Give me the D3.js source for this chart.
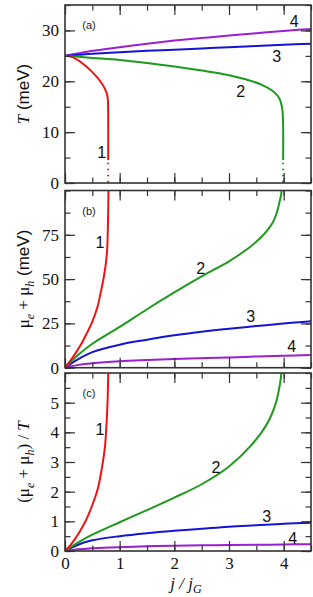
<!DOCTYPE html>
<html>
<head>
<meta charset="utf-8">
<script src="https://cdn.jsdelivr.net/npm/d3@7"></script>
<style>
  html, body { margin: 0; padding: 0; background: #fff; }
  svg { display: block; }
</style>
</head>
<body>
<div id="chart"></div>
<script>
// ---- data ----
const xTicks = [0, 1, 2, 3, 4];
const jGrid = [0, 0.25, 0.5, 1, 1.5, 2, 2.5, 3, 3.5, 4, 4.5];

// panel (a): T (meV)
const jT1 = [0, 0.1, 0.2, 0.3, 0.4, 0.5, 0.6, 0.67, 0.73, 0.77, 0.785, 0.79, 0.79];
const T1 = [25, 24.85, 24.4, 23.7, 22.8, 21.8, 20.6, 19.6, 18.5, 17.4, 16.2, 14, 4.5];
const jT2 = [0, 0.5, 1, 1.5, 2, 2.5, 3, 3.3, 3.6, 3.8, 3.9, 3.95, 3.98, 3.99];
const T2 = [25, 24.6, 24.2, 23.6, 22.9, 22.1, 21.2, 20.4, 19.3, 18.1, 17.0, 15.8, 14.0, 4.5];
const T3 = [25, 25.2, 25.4, 25.7, 26.0, 26.2, 26.45, 26.7, 26.95, 27.2, 27.4];
const T4 = [25, 25.5, 26.0, 26.7, 27.4, 28.0, 28.5, 29.0, 29.45, 29.9, 30.3];
const dotted1 = [[0.79, 4.0], [0.79, 0]];
const dotted2 = [[3.99, 4.0], [3.99, 0]];

// panel (b): mu_e + mu_h (meV)
const jM1 = [0, 0.1, 0.2, 0.3, 0.4, 0.5, 0.6, 0.65, 0.7, 0.74, 0.77, 0.785, 0.795, 0.8];
const M1 = [0, 4, 8.5, 13.5, 19.5, 26, 35, 42, 49.5, 57, 66, 80, 100, 110];
const jM2 = [0, 0.25, 0.5, 1, 1.5, 2, 2.5, 3, 3.2, 3.4, 3.6, 3.7, 3.8, 3.87, 3.92, 3.955, 3.975];
const M2 = [0, 7.5, 13.5, 23, 33, 42.5, 51.5, 60, 64, 68.5, 74, 77.5, 82, 87, 93, 98, 104];
const M3 = [0, 5, 8.8, 13, 15.8, 18.3, 20.3, 22, 23.5, 25, 26.2];
const M4 = [0, 1.6, 2.5, 3.6, 4.3, 4.9, 5.4, 5.8, 6.3, 6.7, 7.1];

// panel (c): (mu_e + mu_h) / T
const jR1 = [0, 0.1, 0.2, 0.3, 0.4, 0.5, 0.6, 0.68, 0.73, 0.76, 0.78, 0.79, 0.8];
const R1 = [0, 0.2, 0.45, 0.75, 1.1, 1.55, 2.1, 2.85, 3.5, 4.3, 5.1, 5.9, 6.5];
const jR2 = [0, 0.25, 0.5, 1, 1.5, 2, 2.5, 3, 3.4, 3.7, 3.85, 3.93, 3.97];
const R2 = [0, 0.3, 0.55, 0.97, 1.38, 1.8, 2.25, 2.85, 3.55, 4.3, 4.95, 5.6, 6.2];
const R3 = [0, 0.22, 0.36, 0.5, 0.6, 0.68, 0.75, 0.82, 0.87, 0.92, 0.95];
const R4 = [0, 0.06, 0.09, 0.13, 0.16, 0.18, 0.19, 0.2, 0.21, 0.22, 0.23];

const colors = ["#ee1414", "#1c9a1c", "#1414d8", "#9a1fd2"];

const zip = (xs, ys) => xs.map((x, i) => [x, ys[i]]);

const panels = [
  { id: "a", top: 5, bottom: 183, domain: [0, 35], major: [0, 10, 20, 30], minor: d3.range(0, 35.1, 5),
    series: [zip(jT1, T1), zip(jT2, T2), zip(jGrid, T3), zip(jGrid, T4)],
    dotted: [[dotted1, 0], [dotted2, 1]],
    labels: [[101.7, 152, "1"], [240.7, 91, "2"], [276.7, 56, "3"], [294.3, 21, "4"]] },
  { id: "b", top: 190.5, bottom: 367.7, domain: [0, 100], major: [0, 25, 50, 75], minor: d3.range(0, 100.1, 12.5),
    series: [zip(jM1, M1), zip(jM2, M2), zip(jGrid, M3), zip(jGrid, M4)],
    dotted: [],
    labels: [[100, 242, "1"], [200.7, 267.5, "2"], [250.7, 316, "3"], [291.7, 346, "4"]] },
  { id: "c", top: 373, bottom: 551, domain: [0, 6], major: [0, 1, 2, 3, 4, 5], minor: d3.range(0, 6.01, 0.5),
    series: [zip(jR1, R1), zip(jR2, R2), zip(jGrid, R3), zip(jGrid, R4)],
    dotted: [],
    labels: [[100, 428.5, "1"], [216, 467, "2"], [266.7, 516, "3"], [292.7, 537.5, "4"]] }
];

const W = 313, H = 597;
const left = 65, right = 311;

const svg = d3.select("#chart").append("svg")
  .attr("width", W).attr("height", H);

const x = d3.scaleLinear().domain([0, 4.5]).range([left, right]);

const frameColor = "#333";
const serif = "'Liberation Serif', 'Times New Roman', serif";
const sans = "'Liberation Sans', Arial, sans-serif";

panels.forEach((p, pi) => {
  const y = d3.scaleLinear().domain(p.domain).range([p.bottom, p.top]);
  const g = svg.append("g");

  const clipId = `clip-${p.id}`;
  svg.append("clipPath").attr("id", clipId).append("rect")
    .attr("x", left).attr("y", p.top).attr("width", right - left).attr("height", p.bottom - p.top);

  const line = d3.line()
    .x(d => x(d[0])).y(d => y(d[1]))
    .curve(d3.curveCatmullRom.alpha(0.5));

  const curves = g.append("g").attr("clip-path", `url(#${clipId})`);
  // draw 4 first so 1 ends on top
  p.series.map((s, i) => [s, i]).reverse().forEach(([s, i]) => {
    curves.append("path")
      .attr("d", line(s))
      .attr("fill", "none")
      .attr("stroke", colors[i])
      .attr("stroke-width", 2);
  });
  p.dotted.forEach(([s, i]) => {
    curves.append("path")
      .attr("d", d3.line().x(d => x(d[0])).y(d => y(d[1]))(s))
      .attr("fill", "none")
      .attr("stroke", colors[i])
      .attr("stroke-width", 2)
      .attr("stroke-dasharray", "1.5,4.5");
  });

  // ticks, all inward
  const axes = [
    [() => d3.axisLeft(y), `translate(${left},0)`, p.major, p.minor],
    [() => d3.axisRight(y), `translate(${right},0)`, p.major, p.minor],
    [() => d3.axisBottom(x), `translate(0,${p.bottom})`, xTicks, d3.range(0, 4.51, 0.5)],
    [() => d3.axisTop(x), `translate(0,${p.top})`, xTicks, d3.range(0, 4.51, 0.5)]
  ];
  axes.forEach(([mk, tr, maj, min], k) => {
    const m = g.append("g").attr("transform", tr)
      .call(mk().tickValues(min).tickSize(-5.5).tickFormat(""));
    m.select(".domain").remove();
    m.selectAll("line").attr("stroke", frameColor).attr("stroke-width", 1.2);
    const showLabels = k === 0 || (k === 2 && pi === panels.length - 1);
    const a = g.append("g").attr("transform", tr)
      .call(mk().tickValues(maj).tickSize(-10).tickPadding(6)
        .tickFormat(showLabels ? d3.format("d") : ""));
    a.select(".domain").remove();
    a.selectAll("line").attr("stroke", frameColor).attr("stroke-width", 1.2);
    a.selectAll("text")
      .attr("font-family", serif).attr("font-size", 17).attr("fill", "#111");
  });

  g.append("rect")
    .attr("x", left).attr("y", p.top)
    .attr("width", right - left).attr("height", p.bottom - p.top)
    .attr("fill", "none").attr("stroke", frameColor).attr("stroke-width", 1.6);

  g.append("text")
    .attr("x", 89).attr("y", p.top + 24)
    .attr("text-anchor", "middle")
    .attr("font-family", sans).attr("font-size", 11).attr("fill", "#222")
    .text(`(${p.id})`);

  p.labels.forEach(([lx, ly, t]) => {
    g.append("text")
      .attr("x", lx).attr("y", ly + 6)
      .attr("text-anchor", "middle")
      .attr("font-family", sans).attr("font-size", 16).attr("fill", "#111")
      .text(t);
  });
});

// y axis titles
function yTitle(cy, parts) {
  const t = svg.append("text")
    .attr("transform", `translate(29,${cy}) rotate(-90)`)
    .attr("text-anchor", "middle")
    .attr("fill", "#111").attr("font-size", 17);
  let shift = 0;
  parts.forEach(([s, fam, style, sub]) => {
    const ts = t.append("tspan").text(s)
      .attr("font-family", fam === "s" ? sans : serif)
      .attr("font-style", style ? "italic" : "normal");
    const want = sub ? 5 : 0;
    if (want !== shift) { ts.attr("dy", want - shift); shift = want; }
    if (sub) ts.attr("font-size", 12);
  });
}
yTitle(94, [["T", "r", true], [" (meV)", "s", false]]);
yTitle(279, [["\u03bc", "r", false], ["e", "r", true, true], [" + \u03bc", "r", false], ["h", "r", true, true], [" (meV)", "s", false]]);
yTitle(462, [["(\u03bc", "r", false], ["e", "r", true, true], [" + \u03bc", "r", false], ["h", "r", true, true], [") / ", "r", false], ["T", "r", true]]);

// x axis title
const xt = svg.append("text")
  .attr("x", 186).attr("y", 589)
  .attr("text-anchor", "middle")
  .attr("font-family", serif).attr("font-size", 17).attr("font-style", "italic").attr("fill", "#111");
xt.append("tspan").text("j / j");
xt.append("tspan").text("G").attr("dy", 4).attr("font-size", 12);
</script>
</body>
</html>
